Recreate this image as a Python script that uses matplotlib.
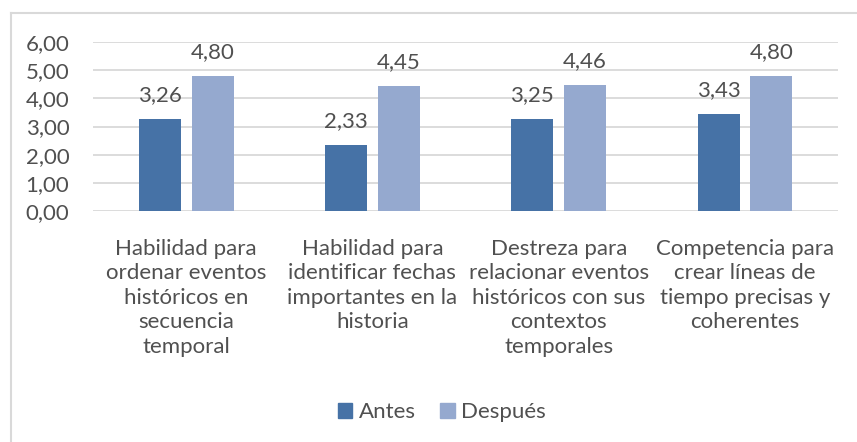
import matplotlib
matplotlib.use('agg')
import matplotlib.pyplot as plt
from matplotlib.lines import Line2D
from matplotlib.patches import Patch
import numpy as np

plt.rcParams['font.family'] = ['Lato', 'DejaVu Sans']

# Data
categories = [
    "Habilidad para\nordenar eventos\nhistóricos en\nsecuencia\ntemporal",
    "Habilidad para\nidentificar fechas\nimportantes en la\nhistoria",
    "Destreza para\nrelacionar eventos\nhistóricos con sus\ncontextos\ntemporales",
    "Competencia para\ncrear líneas de\ntiempo precisas y\ncoherentes",
]
antes = [3.26, 2.33, 3.25, 3.43]
despues = [4.80, 4.45, 4.46, 4.80]
series_names = ["Antes", "Después"]
yticks = [0, 1, 2, 3, 4, 5, 6]

col_antes = '#4672a6'
col_despues = '#95a9cf'
txt_col = '#505050'
grid_col = '#d9d9d9'
fs = 16


def fmt(v):
    return ("%.2f" % v).replace('.', ',')


fig = plt.figure(figsize=(8.57, 4.42), dpi=100)
ax = fig.add_axes([0.1085, 0.5226, 0.8695, 0.3824])

x = np.arange(len(categories))
w = 0.225
off = 0.142
b1 = ax.bar(x - off, antes, w, color=col_antes, zorder=3)
b2 = ax.bar(x + off, despues, w, color=col_despues, zorder=3)

for bars, vals in [(b1, antes), (b2, despues)]:
    for r, v in zip(bars, vals):
        ax.annotate(fmt(v), (r.get_x() + r.get_width() / 2, v),
                    xytext=(0, 10), textcoords='offset points',
                    ha='center', va='bottom', fontsize=fs, color=txt_col)

ax.set_xlim(-0.5, len(categories) - 0.5)
ax.set_ylim(0, 6)
ax.set_yticks(yticks)
ax.set_yticklabels([fmt(t) for t in yticks], fontsize=fs, color=txt_col)
ax.set_xticks(x)
ax.set_xticklabels(categories, fontsize=fs, color=txt_col, linespacing=1.28)
ax.tick_params(axis='both', length=0)
ax.tick_params(axis='y', pad=17)
ax.tick_params(axis='x', pad=20)
ax.yaxis.grid(True, color=grid_col, linewidth=1.3, zorder=0)
for s in ax.spines.values():
    s.set_visible(False)

# chart frame (left and top edges are visible in the crop)
fig.add_artist(Line2D([11 / 857, 11 / 857], [0, 1 - 13 / 442],
                      transform=fig.transFigure, color=grid_col, linewidth=1.5))
fig.add_artist(Line2D([11 / 857, 1], [1 - 13 / 442, 1 - 13 / 442],
                      transform=fig.transFigure, color=grid_col, linewidth=1.5))

handles = [Patch(color=col_antes), Patch(color=col_despues)]
fig.legend(handles, series_names, loc='center', bbox_to_anchor=(442 / 857, 1 - 412 / 442),
           ncol=2, frameon=False, fontsize=fs, handlelength=0.65, handleheight=0.65,
           handletextpad=0.3, columnspacing=1.1, labelcolor=txt_col)

fig.savefig('out.png', dpi=100)
